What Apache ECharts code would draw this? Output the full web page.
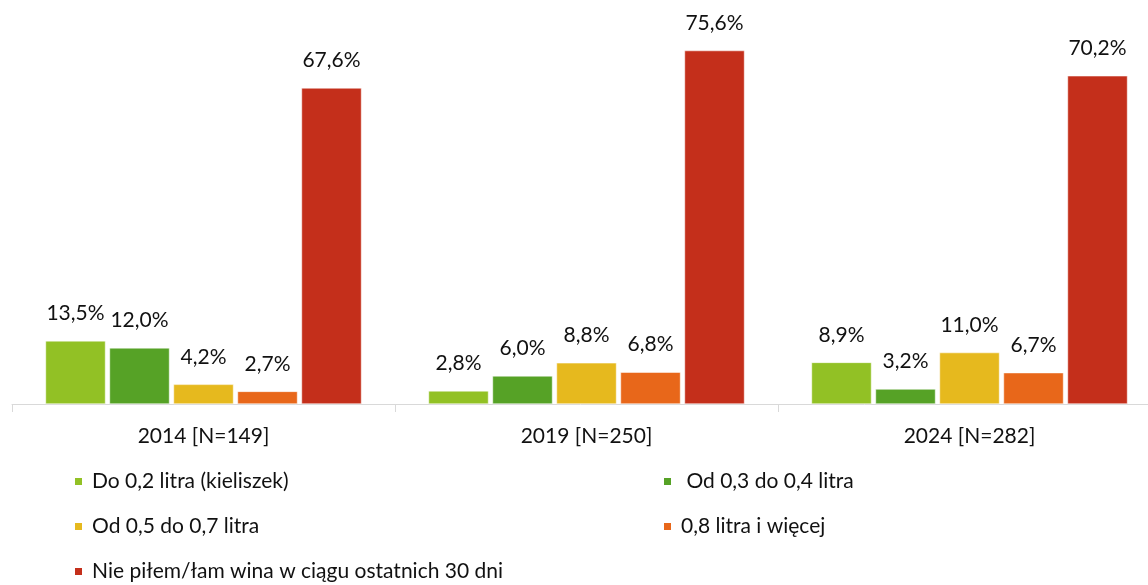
<!DOCTYPE html>
<html>
<head>
<meta charset="utf-8">
<script src="https://cdn.jsdelivr.net/npm/echarts@6/dist/echarts.min.js"></script>
<style>
  html, body { margin: 0; padding: 0; background: #fff; }
  #chart { width: 1148px; height: 585px; }
</style>
</head>
<body>
<div id="chart"></div>
<script>
// categories (survey years)
const categories = ["2014 [N=149]", "2019 [N=250]", "2024 [N=282]"];

// series names
const seriesNames = [
  "Do 0,2 litra (kieliszek)",
  " Od 0,3 do 0,4 litra",
  "Od 0,5 do 0,7 litra",
  "0,8 litra i więcej",
  "Nie piłem/łam wina w ciągu ostatnich 30 dni"
];

// values in %
const upTo02 = [13.5, 2.8, 8.9];
const from03to04 = [12.0, 6.0, 3.2];
const from05to07 = [4.2, 8.8, 11.0];
const over08 = [2.7, 6.8, 6.7];
const noWine = [67.6, 75.6, 70.2];

const colors = ["#92C125", "#56A226", "#E6B91E", "#E8671A", "#C42F1B"];
const font = "Lato";
const fs = 21;

const chart = echarts.init(document.getElementById("chart"));

const allData = [upTo02, from03to04, from05to07, over08, noWine];

// legend slots: [left, top] for each series
const legendPos = [[73, 471], [662, 471], [73, 516], [662, 516], [73, 561]];

chart.setOption({
  animation: false,
  textStyle: { fontFamily: font },
  grid: { left: 12, top: 30, width: 1149, bottom: 181, outerBoundsMode: "none", containLabel: false },
  xAxis: {
    type: "category",
    data: categories,
    axisLine: { lineStyle: { color: "#D9D9D9", width: 1 } },
    axisTick: { show: true, length: 8, lineStyle: { color: "#D9D9D9" } },
    axisLabel: { color: "#111", fontSize: fs, fontFamily: font, margin: 22 }
  },
  yAxis: {
    type: "value",
    min: 0,
    max: 80,
    show: false,
    splitLine: { show: false }
  },
  legend: seriesNames.map((name, i) => ({
    left: legendPos[i][0],
    top: legendPos[i][1],
    padding: 0,
    itemWidth: 9,
    itemHeight: 9,
    icon: "rect",
    data: [name],
    textStyle: { fontSize: fs, color: "#111", fontFamily: font, padding: [0, 0, 0, 4] }
  })),
  series: allData.map((d, i) => ({
    name: seriesNames[i],
    type: "bar",
    data: d,
    barWidth: 60,
    barGap: "6.67%",
    itemStyle: { color: colors[i], borderColor: "#fff", borderWidth: 0.5 },
    label: {
      show: true,
      position: "top",
      distance: 17,
      color: "#111",
      fontSize: fs,
      fontFamily: font,
      formatter: p => p.value.toFixed(1).replace(".", ",") + "%"
    }
  }))
});
</script>
</body>
</html>
